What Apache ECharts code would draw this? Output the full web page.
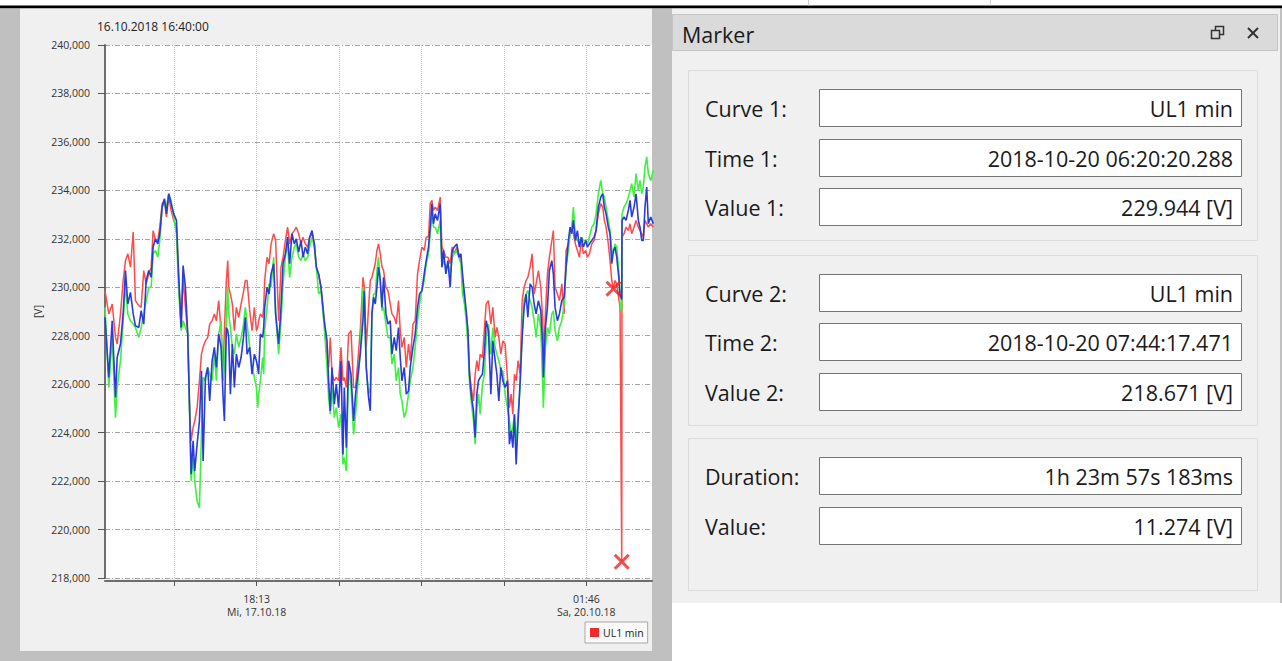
<!DOCTYPE html>
<html><head><meta charset="utf-8">
<script src="https://cdn.jsdelivr.net/npm/echarts@6/dist/echarts.min.js"></script>
<style>html,body{margin:0;padding:0;background:#fff;overflow:hidden}#c{width:1282px;height:661px}</style>
</head><body><div id="c"></div>
<script>
// ---------- data (hours since 16.10.2018 16:40:00) ----------
const startLabel = '16.10.2018 16:40:00';
const hours = [
0.00,0.64,1.21,1.77,2.05,2.61,3.06,3.45,3.84,4.29,4.75,5.13,5.69,6.09,6.53,6.94,7.37,7.78,8.11,8.50,8.89,9.23,9.63,10.02,10.35,10.74,11.14,11.58,12.04,12.42,12.83,13.16,13.55,13.94,14.28,14.51,14.85,15.12,15.52,15.91,16.25,16.53,16.92,17.31,17.64,18.05,
18.43,18.77,19.16,19.56,19.90,20.12,20.45,20.68,20.84,21.13,21.46,21.80,22.14,22.53,22.93,23.27,23.65,23.94,24.38,24.78,25.17,25.51,25.73,25.89,26.18,26.57,26.74,26.90,27.31,27.64,27.98,28.42,28.75,29.26,29.66,30.00,30.39,30.77,31.11,31.51,31.90,32.24,32.63,33.03,33.37,33.75,34.14,34.48,34.88,35.27,35.61,35.99,36.40,
36.95,37.41,37.68,37.96,38.25,38.64,38.97,39.36,39.76,40.10,40.32,40.66,41.04,41.45,41.89,42.22,42.56,43.01,43.47,43.69,44.02,44.41,44.70,44.98,45.25,45.54,45.82,46.09,46.38,46.67,46.94,47.34,47.68,48.06,48.35,48.74,49.07,49.46,49.75,50.03,50.42,50.76,51.14,51.43,51.89,52.27,52.66,53.00,53.40,53.79,54.12,54.51,54.80,
55.08,55.35,55.64,56.03,56.48,56.77,57.04,57.44,57.78,58.16,58.50,58.84,59.29,59.63,59.97,60.24,60.52,60.86,61.15,61.41,61.70,62.09,62.37,62.66,62.93,63.22,63.60,63.94,64.23,64.61,65.02,65.35,65.74,66.03,66.36,66.70,67.04,67.42,67.81,68.15,68.43,68.72,68.99,69.28,69.61,69.95,70.29,70.62,70.96,71.25,71.63,71.97,72.31,72.64,73.03,73.43,73.77,
73.87,74.21,74.55,74.88,75.29,75.55,75.84,76.23,76.57,76.97,77.36,77.69,78.08,78.37,78.65,78.92,79.26,79.60,79.93,80.27,80.61,81.01,81.28,81.62,82.02,82.41,82.74,83.13,83.54,83.87,84.14,84.43,84.81,85.10,85.39,85.672,85.94,86.23,86.62,86.78,87.0715,87.12,87.46,87.79,88.18,88.47,88.75,89.14,89.48,89.87,90.15,90.44,90.71,90.99,91.28,91.55,91.95,92.39
];
// UL1 min (red)
const ul1Min = [
229.86,228.90,229.31,227.93,227.66,228.90,230.28,231.10,231.38,230.83,232.28,229.45,229.24,229.17,230.69,230.14,230.55,230.83,232.34,231.93,231.93,232.48,233.45,233.59,232.90,233.72,233.17,232.76,232.48,230.41,228.34,230.41,229.17,228.07,224.76,223.66,224.21,224.48,225.03,226.14,227.24,227.52,227.79,227.93,228.48,228.62,
228.90,228.62,229.45,228.21,226.55,228.21,230.28,231.10,230.00,229.72,229.31,228.21,229.17,228.76,229.31,229.72,230.28,230.28,229.03,228.21,229.17,228.21,228.34,228.62,228.90,228.76,229.17,230.28,231.24,230.97,231.79,232.21,231.93,228.62,230.83,231.24,231.93,232.48,231.79,232.21,232.34,232.48,232.21,231.79,232.07,231.79,231.66,232.07,232.21,231.79,230.83,230.55,230.00,
228.48,227.10,226.69,227.93,226.41,226.14,226.28,226.14,227.52,226.14,226.28,225.86,228.07,228.21,225.86,225.86,226.83,228.21,230.41,230.00,227.52,229.17,230.28,230.41,230.69,230.97,231.52,231.79,231.38,230.83,230.69,230.00,229.86,229.31,228.90,228.76,228.48,229.45,228.21,227.52,227.93,226.69,227.66,226.97,228.48,228.62,230.55,231.10,231.66,231.52,232.07,232.07,233.45,
233.59,233.17,233.31,233.17,233.72,231.66,231.52,231.24,231.24,230.97,231.66,231.38,231.66,231.38,231.24,230.14,229.45,228.90,228.07,226.55,225.86,225.31,226.41,226.97,226.55,227.24,227.10,228.34,229.31,229.45,228.48,229.17,227.93,228.34,227.93,227.24,227.79,227.66,226.28,225.03,225.59,224.76,226.41,226.14,226.97,226.41,229.45,230.00,230.28,230.41,230.83,231.38,229.72,230.14,230.69,229.99,228.62,
227.10,228.90,230.55,231.24,231.93,232.34,230.00,229.72,229.45,230.14,228.90,231.52,231.79,232.21,232.48,232.21,231.79,231.52,231.24,231.93,231.38,231.52,231.24,231.38,231.79,231.93,232.34,233.03,233.45,233.31,232.76,232.48,231.79,231.10,230.28,229.944,230.28,230.14,229.45,229.17,218.671,232.07,232.21,232.48,232.34,232.62,232.21,232.48,232.76,232.48,232.34,232.21,232.07,232.76,232.62,232.48,232.62,232.48
];
// second curve (green)
const ul2Min = [
229.17,225.86,227.93,224.62,225.86,226.97,228.62,230.14,228.90,228.62,228.48,228.34,227.93,228.34,228.90,229.45,230.00,230.00,231.38,231.52,231.24,231.93,233.31,233.52,233.31,233.86,233.59,232.90,232.21,229.86,228.21,228.62,228.34,228.07,224.48,222.00,222.97,222.00,221.17,220.90,223.93,226.28,226.14,226.69,226.41,226.14,
227.24,226.14,228.07,228.62,226.14,226.69,228.62,230.00,228.90,228.34,227.52,227.24,228.07,227.52,227.93,228.34,229.17,228.48,227.52,226.69,226.28,225.86,225.03,225.59,226.14,227.10,226.41,228.21,229.17,230.14,230.00,231.24,228.90,227.24,228.62,230.14,231.24,231.79,230.41,231.24,231.66,231.79,231.24,231.10,231.38,231.10,231.24,231.66,232.07,231.66,230.83,229.72,229.86,
228.34,226.69,225.45,224.76,225.86,224.62,225.03,224.21,224.76,222.69,222.97,222.41,226.69,225.86,223.93,224.76,225.86,227.38,230.00,229.72,226.69,225.59,225.86,228.90,229.72,229.72,230.69,231.24,230.28,229.03,229.17,228.48,227.93,227.93,226.83,227.24,226.14,226.69,225.59,225.31,224.62,224.90,225.59,226.14,226.69,227.52,228.62,229.31,229.86,230.28,230.97,231.38,232.21,
233.03,232.48,232.48,232.21,232.76,230.83,231.10,230.83,230.97,230.55,231.24,231.38,231.52,231.24,230.97,229.72,229.45,228.62,227.66,226.14,225.31,224.48,223.52,225.03,225.59,224.76,226.00,226.41,227.93,228.48,227.24,228.34,227.52,227.24,226.97,226.55,226.55,225.59,225.03,224.48,223.93,224.21,224.76,223.52,224.76,225.86,228.21,229.45,229.72,229.86,229.45,229.17,228.62,227.93,228.90,228.34,225.86,
225.03,227.52,228.34,228.07,228.90,229.03,228.21,227.79,228.34,228.62,229.31,230.83,231.52,232.21,232.48,233.31,232.07,231.93,231.79,232.07,231.93,231.93,231.79,232.07,232.48,232.62,233.03,233.86,234.41,233.86,233.72,233.31,232.76,232.34,231.52,231.38,231.79,231.66,230.55,229.31,229.00,233.03,233.31,233.45,233.72,234.00,234.28,233.72,234.69,234.00,234.41,233.86,234.14,234.97,235.38,234.69,234.41,234.83
];
// third curve (blue)
const ul3Min = [
228.76,226.28,228.62,225.45,227.10,227.66,228.90,230.69,229.31,229.79,228.90,228.41,228.34,229.03,228.48,230.28,230.69,230.41,231.66,232.00,231.79,232.21,233.31,233.66,233.03,233.86,233.45,233.03,232.76,230.41,228.34,230.90,230.00,228.07,224.76,222.28,223.66,222.41,223.52,224.48,226.55,222.83,226.28,226.69,225.31,226.97,
227.52,226.69,228.07,227.52,225.45,224.48,228.34,228.21,227.93,225.59,227.66,225.86,227.24,226.69,227.10,227.79,228.76,227.24,227.52,226.41,227.24,226.97,226.69,226.41,228.07,227.93,228.34,229.17,230.00,229.72,230.55,230.97,228.90,227.66,229.17,230.97,231.38,232.07,230.97,232.21,231.79,232.00,231.45,231.93,231.24,231.66,231.38,232.07,232.34,231.79,230.83,230.55,230.00,
228.62,227.79,226.14,224.90,226.69,225.17,226.00,225.03,226.97,223.10,225.86,223.38,226.97,226.41,224.48,225.59,226.28,227.24,228.62,229.86,226.69,225.45,224.90,228.90,229.59,229.31,230.00,230.83,230.28,229.17,230.41,228.90,228.48,228.62,227.24,227.93,227.38,228.34,227.10,226.14,226.69,225.59,225.72,226.69,227.52,228.07,229.17,229.72,229.86,230.55,231.10,231.66,232.48,
233.45,232.62,233.03,232.76,233.45,230.83,231.52,230.55,231.10,230.00,231.52,231.66,231.79,231.24,231.38,230.55,229.86,229.03,228.21,226.41,225.59,224.90,223.80,225.59,226.14,226.28,226.41,227.38,228.62,228.21,225.59,227.79,226.97,226.41,225.31,226.69,226.14,225.86,226.14,223.52,224.07,223.38,224.76,222.69,224.48,226.14,227.93,229.17,229.72,228.76,230.14,230.00,229.31,228.90,229.45,229.03,227.52,
226.28,228.34,229.17,230.69,231.10,230.55,229.17,228.62,228.90,229.45,229.59,230.83,231.93,232.48,232.21,232.76,231.93,232.34,231.66,232.07,231.66,231.93,231.66,231.79,231.93,232.07,232.34,233.31,233.72,233.86,233.31,233.03,232.48,232.21,230.97,231.52,231.66,231.24,230.28,229.72,229.50,232.76,232.90,232.76,233.17,233.59,232.90,233.31,233.86,232.76,232.48,231.93,231.93,233.31,234.14,232.62,232.90,232.62
];
const seriesNames = ['UL1 min', 'UL2 min', 'UL3 min'];
const xMaxHours = 92.17;
const tickHours = [11.6625, 25.55, 39.4375, 53.325, 67.2125, 81.1];
const labelHours = [25.55, 81.1];
const tickLabels = ['18:13\nMi, 17.10.18', '01:46\nSa, 20.10.18'];
const markerHours = [85.672, 87.0715];
const markerValues = [229.944, 218.671];
const yMin = 218, yMax = 240, yStep = 2;
// marker panel texts
const panelTitle = 'Marker';
const panelLabels = ['Curve 1:', 'Time 1:', 'Value 1:', 'Curve 2:', 'Time 2:', 'Value 2:', 'Duration:', 'Value:'];
const panelValues = ['UL1 min', '2018-10-20 06:20:20.288', '229.944 [V]', 'UL1 min', '2018-10-20 07:44:17.471', '218.671 [V]', '1h 23m 57s 183ms', '11.274 [V]'];

// ---------- chart ----------
const FONT = '"Open Sans", "Noto Sans", "DejaVu Sans", sans-serif';
const chart = echarts.init(document.getElementById('c'), null, {renderer: 'svg'});
const toPairs = vals => hours.map((h, i) => [h, vals[i]]);
const colors = ['#ff4a4a', '#3ff03f', '#2a3bdc'];
const PANEL_FS = 21.5;

// layout of the marker panel
const fieldTops = [89, 139, 188, 274, 323, 373, 457, 507];
const groups = [[70, 170], [255, 170], [438, 152]];
const g = [];
function rect(x, y, w, h, fill, stroke, z, lw) {
  g.push({type: 'rect', silent: true, z: z, shape: {x: x, y: y, width: w, height: h},
    style: {fill: fill, stroke: stroke || null, lineWidth: lw || 1}});
}
function txt(x, y, t, size, align, z) {
  g.push({type: 'text', silent: true, z: z, x: x, y: y,
    style: {text: t, fontSize: size, fontFamily: FONT, fill: '#1a1a1a',
      align: align, verticalAlign: 'middle', textAlign: align, textVerticalAlign: 'middle'}});
}
// backgrounds
rect(0, 0, 1282, 661, '#ffffff', null, -20);
rect(0, 5.5, 1282, 3, '#000000', null, -19);
rect(0, 8.5, 20, 653, '#c0c0c0', null, -19);
rect(20, 8.5, 632, 642.5, '#f0f0f0', null, -19);
rect(0, 651, 672, 10, '#c0c0c0', null, -19);
rect(652, 8.5, 20, 653, '#c0c0c0', null, -19);
rect(672, 8.5, 608, 594.5, '#f0f0f0', null, -19);
rect(1280, 8.5, 2, 594.5, '#c0c0c0', null, -19);
rect(808, 0, 1, 5.5, '#d0d0d0', null, -19);
rect(990, 0, 1, 5.5, '#d0d0d0', null, -19);
// header
rect(672.5, 14.5, 605, 36, '#dadada', '#c4c4c4', 5);
txt(682, 34, panelTitle, PANEL_FS, 'left', 6);
rect(1215.5, 26.5, 8, 8, null, '#333', 6, 1.5);
rect(1211.5, 30.5, 8, 8, '#dadada', '#333', 7, 1.5);
g.push({type: 'line', silent: true, z: 6, shape: {x1: 1248, y1: 28, x2: 1258, y2: 38}, style: {stroke: '#333', lineWidth: 2}});
g.push({type: 'line', silent: true, z: 6, shape: {x1: 1258, y1: 28, x2: 1248, y2: 38}, style: {stroke: '#333', lineWidth: 2}});
// group boxes
groups.forEach(([y, h]) => rect(688.5, y + 0.5, 569, h, null, '#dcdcdc', 5));
// fields
fieldTops.forEach((y, i) => {
  rect(819.5, y + 0.5, 422, 37, '#ffffff', '#747474', 6);
  txt(705, y + 19, panelLabels[i], PANEL_FS, 'left', 7);
  txt(1233, y + 19, panelValues[i], PANEL_FS, 'right', 7);
});

const xSymbol = 'path://M1.3,0 L5,3.7 L8.7,0 L10,1.3 L6.3,5 L10,8.7 L8.7,10 L5,6.3 L1.3,10 L0,8.7 L3.7,5 L0,1.3 Z';

const option = {
  animation: false,
  textStyle: {fontFamily: FONT},
  title: {text: startLabel, left: 97, top: 20, padding: 0,
    textStyle: {fontSize: 12, fontWeight: 'normal', color: '#222', fontFamily: FONT}},
  legend: {data: ['UL1 min'], left: 585, top: 622, orient: 'horizontal', icon: 'rect',
    itemWidth: 9, itemHeight: 9, itemGap: 5, padding: [5, 4, 5, 5],
    backgroundColor: '#fafafa', borderColor: '#a8a8a8', borderWidth: 1, borderRadius: 0,
    textStyle: {fontSize: 10.5, color: '#222', fontFamily: FONT, padding: [0, 0, 0, -1]}},
  grid: {left: 105, right: 630, top: 45, bottom: 83, show: true, backgroundColor: '#ffffff', borderWidth: 0, containLabel: false},
  xAxis: {type: 'value', min: 0, max: xMaxHours, offset: 3,
    axisLine: {show: true, onZero: false, lineStyle: {color: '#6e6e6e', width: 2}},
    axisTick: {show: true, customValues: tickHours, length: 5, lineStyle: {color: '#555', width: 1}},
    axisLabel: {customValues: labelHours, fontSize: 10.5, lineHeight: 13, color: '#333', margin: 11, fontFamily: FONT,
      formatter: v => { let bi = 0; labelHours.forEach((h, i) => { if (Math.abs(h - v) < Math.abs(labelHours[bi] - v)) bi = i; }); return tickLabels[bi]; }},
    splitLine: {show: true, lineStyle: {color: '#c8c8c8', type: 'dotted', width: 1}}},
  yAxis: {type: 'value', min: yMin, max: yMax, interval: yStep,
    name: '[V]', nameLocation: 'middle', nameGap: 62, nameRotate: 90,
    nameTextStyle: {fontSize: 10.5, color: '#333', fontFamily: FONT},
    axisLine: {show: true, lineStyle: {color: '#6e6e6e', width: 2}},
    axisTick: {show: true, length: 7, lineStyle: {color: '#555'}},
    axisLabel: {fontSize: 10.5, color: '#333', margin: 15, fontFamily: FONT,
      formatter: v => v.toFixed(3).replace('.', ',')},
    splitLine: {show: true, lineStyle: {color: '#a6a6a6', type: [5, 2, 1, 2], width: 1}}},
  series: [
    {name: seriesNames[0], type: 'line', data: toPairs(ul1Min), showSymbol: false, z: 2,
      lineStyle: {color: colors[0], width: 1.5}, itemStyle: {color: '#ee2a2a'}},
    {name: seriesNames[1], type: 'line', data: toPairs(ul2Min), showSymbol: false, z: 3,
      lineStyle: {color: colors[1], width: 1.6}, itemStyle: {color: colors[1]}},
    {name: seriesNames[2], type: 'line', data: toPairs(ul3Min), showSymbol: false, z: 4,
      lineStyle: {color: colors[2], width: 1.6}, itemStyle: {color: colors[2]}},
    {name: 'marker', type: 'scatter', z: 6, symbol: xSymbol, symbolSize: 16,
      data: markerHours.map((h, i) => [h, markerValues[i]]), itemStyle: {color: '#ee2222'}}
  ],
  graphic: {elements: g}
};
chart.setOption(option);
</script></body></html>
